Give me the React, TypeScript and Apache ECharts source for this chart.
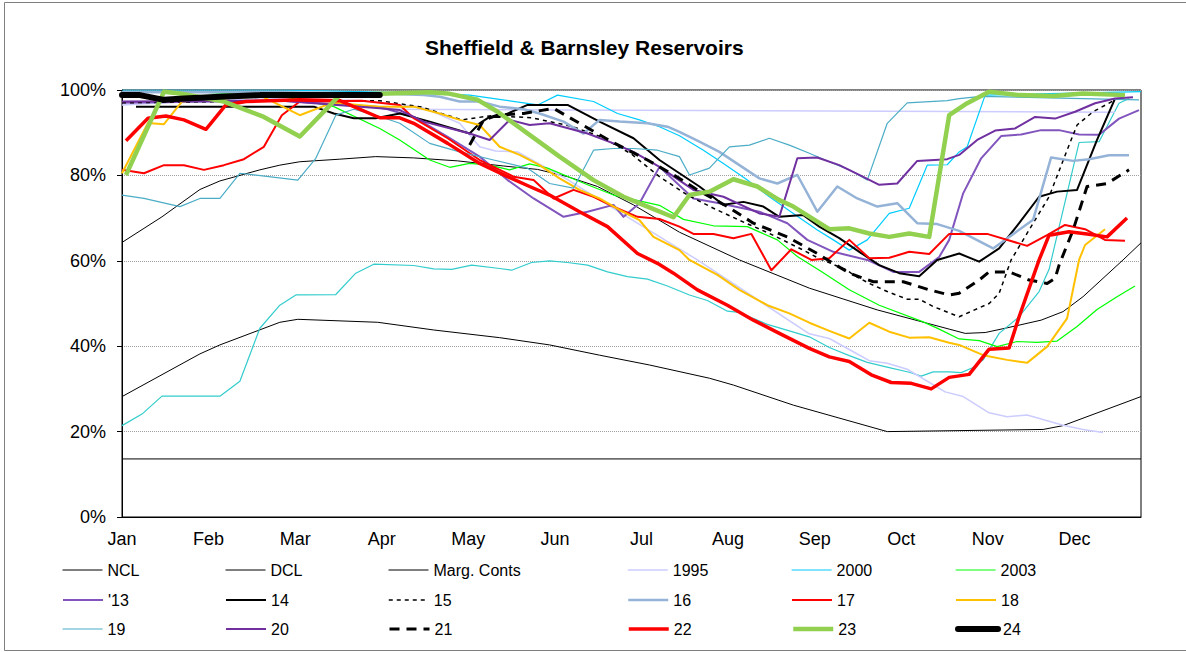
import React, { useEffect, useRef } from "react";
import * as echarts from "echarts";

// x values are week numbers (0 = 1 Jan), y values are % full
const MONTHS = ["Jan", "Feb", "Mar", "Apr", "May", "Jun", "Jul", "Aug", "Sep", "Oct", "Nov", "Dec"];

const NCL = [[0,64.3],[2.0,70.3],[3.9,76.7],[4.9,78.7],[6.9,81.3],[7.9,82.4],[8.9,83.2],[10.9,83.8],[12.7,84.4],[14.6,84.1],[16.8,83.4],[19.1,82.2],[20.8,81.4],[22.3,79.7],[23.8,77.4],[25.6,73.1],[27.9,66.7],[30.9,60.2],[34.4,53.6],[37.8,48.5],[41.4,44],[42.2,43],[43.2,43.2],[44.3,44.3],[46.0,46.1],[47.1,48.1],[48.1,51.6],[50.1,60.2],[51,64.2]];
const DCL = [[0,28.2],[3.9,38.2],[4.9,40.3],[7.9,45.6],[8.8,46.3],[12.8,45.6],[15.6,43.8],[18.9,42],[21.4,40.3],[23.9,37.9],[26.4,35.6],[29.4,32.5],[30.6,30.9],[33.6,26.2],[38.3,20],[46.1,20.5],[47.1,21.4],[51,28.2]];
const MARG = [[0,13.6],[51,13.6]];
const EXTRA_TURQ = [[0,21.4],[1,24.1],[2,28.3],[4.9,28.3],[5.9,31.8],[6.9,44.2],[7.9,49.6],[8.7,52],[10.7,52.1],[11.7,57.1],[12.6,59.2],[14.6,58.9],[15.6,58.1],[16.5,58],[17.5,59],[18.9,58.2],[19.5,57.8],[20.5,59.6],[21.4,60],[22.3,59.6],[23.3,59],[24.3,57.4],[25.3,56.3],[26.3,55.7],[27.3,54.1],[28.4,52],[29.3,50.7],[30.3,48.2],[30.9,47.9],[32.3,45.1],[33.4,43.6],[34.4,42.2],[35.4,39.7],[36.4,37.8],[37.3,36.2],[38.4,35],[39.4,33.9],[40.0,33],[40.6,34],[41.4,34],[42.0,33.8],[42.6,35],[43.1,36.8],[43.9,43],[44.9,46.9],[45.9,52.8],[46.4,58],[47.9,87.7],[48.9,87.9],[49.9,96.9],[50.4,98]];
const EXTRA_FLAT = [[13,95.5],[49.7,94.8]];
const Y1995 = [[0,96.5],[4,97.5],[8,98],[12,97.5],[15,96],[16.9,92.2],[17.9,86.7],[18.7,85.7],[19.8,85.5],[22.3,79],[25,71.1],[28.8,60.2],[32.1,50],[34.4,42.9],[35.4,41.8],[36.6,38.7],[37.4,36.6],[38.3,36],[39.3,34.6],[41.2,29.3],[42.1,28.2],[43.4,24.4],[44.3,23.5],[45.3,23.9],[47.1,21.5],[48.1,20.5],[49.1,19.8]];
const Y2000 = [[0,100],[8,100],[13,99.5],[17.4,98.8],[20.8,96.5],[21.8,98.8],[23.6,97.3],[24.8,94.5],[25.9,93],[26.9,91.4],[27.9,89.3],[29.1,85.9],[30.1,82.8],[31.3,78.9],[32.4,75],[33.6,71.1],[34.8,67.2],[35.6,64.9],[36.4,62.5],[37.3,64.9],[38.4,71.1],[39.4,72.3],[40.3,82.4],[41.3,82.5],[41.9,85.5],[42.3,86.7],[43.2,98.8],[51,99.6]];
const Y2003 = [[0,99.5],[4,99.5],[8,98.5],[10.6,96.1],[12.9,91],[13.9,88.3],[15.4,83.6],[16.4,81.9],[17.4,82.8],[18.4,82.4],[19.4,81.3],[20.4,82.7],[21.3,81.7],[23.3,77.8],[24.6,75.4],[26.9,73],[28.1,69.7],[29.6,68.2],[31.3,68],[32.8,64.9],[33.8,61],[35,57.5],[36.4,53.2],[37.9,49.6],[40.1,45.7],[40.9,44],[41.9,41.7],[42.9,41.3],[43.8,39.9],[44.8,41.1],[45.8,40.9],[46.8,41.2],[47.8,44.6],[48.8,48.6],[49.8,51.6],[50.7,54.1]];
const Y13 = [[0,97],[8,97.5],[12.9,96],[14.6,93.7],[16.3,89],[17.9,84.4],[19.3,78.9],[20.6,74.6],[22.1,70.3],[23.3,71.5],[24.6,73.1],[25.1,70.3],[25.9,73.5],[26.9,82],[28.6,74.6],[29.9,73.5],[31.9,71.5],[33.3,68.8],[34.3,64.9],[35.6,62.1],[37.3,60.2],[38.6,57.4],[39.9,57.4],[40.9,60.9],[41.4,64.9],[42.1,75.8],[43.0,84],[44.0,89.2],[45.0,89.6],[46.0,90.6],[46.9,90.6],[47.9,89.6],[48.9,89.5],[49.9,93.3],[50.9,95.3]];
const Y14 = [[0.7,96.1],[9.6,96.1],[10.6,94.5],[11.6,93.4],[12.7,93.4],[13.9,94.5],[15.4,92.6],[17.4,89.8],[17.9,92.2],[18.4,93.7],[18.9,93.7],[20.3,96.5],[22.3,96.5],[23.9,92.6],[25.6,88.7],[26.9,83.6],[27.9,80.5],[28.9,77.4],[30.1,73.1],[31.1,73.8],[32.1,72.7],[32.9,70.3],[34.1,70.7],[34.9,68],[35.9,65.3],[36.9,62.1],[37.9,59],[38.9,57.1],[39.9,56.4],[40.8,60.2],[41.9,61.7],[42.9,59.8],[43.9,62.9],[44.9,68.8],[45.9,75],[46.8,76.2],[47.8,76.6],[48.8,88.3],[49.7,98]];
const Y15 = [[0,97],[8,97.5],[12.9,97.5],[15,96],[17,93],[18.5,94],[20.5,93.5],[22.5,91.5],[24,89],[25.5,85],[26.9,79.7],[28.3,75.4],[29.6,72.3],[30.9,69.5],[32.4,66.4],[34.1,62.5],[34.9,60.5],[36.3,57.8],[36.6,56.7],[37.4,54.7],[38.3,52.8],[39.3,51],[39.9,51],[40.6,49.3],[41.4,47.8],[41.9,46.9],[43.4,50],[43.9,52.4],[44.5,60.2],[45.5,68],[46.4,75],[47.3,85.9],[47.8,91.8],[48.6,94.9],[49.7,97.7]];
const Y16 = [[0,99.5],[8,99.5],[13,99.2],[15.1,98.8],[15.9,98.4],[16.9,97.3],[17.9,97.3],[18.9,96.1],[20.1,95.5],[20.9,94.5],[22.1,92.6],[23.1,89.8],[23.9,93],[24.9,92.6],[26.3,92.2],[27.3,91.4],[27.9,90.2],[28.9,87.9],[29.9,85.5],[30.9,82.4],[31.9,79.3],[32.8,78.1],[33.8,80.1],[34.8,71.5],[35.8,77.4],[36.8,74.6],[37.8,72.7],[38.8,73.5],[39.8,68.8],[40.8,68.6],[41.9,67],[43.6,62.9],[45.6,69.6],[46.5,84.2],[47.6,83.4],[48.4,83.8],[49.4,84.7],[50.4,84.7]];
const Y17 = [[0,81.3],[1.1,80.5],[2.1,82.4],[3.1,82.4],[4.1,81.3],[5.1,82.4],[6.1,83.8],[7.1,86.7],[8,94.1],[8.9,97.3],[12,97.5],[13.9,96.5],[14.6,93.4],[16.3,88.7],[17.9,83.6],[19.6,79.7],[20.6,78.9],[21.6,74.6],[22.6,76.6],[23.6,75],[24.6,72.7],[25.8,70.3],[26.9,69.8],[27.9,68],[28.6,66.3],[29.6,66.3],[30.6,65.3],[31.5,66.3],[32.5,57.8],[33.5,62.7],[34.5,60.2],[35.4,60.6],[36.4,64.9],[37.4,60.6],[38.4,60.7],[39.4,62.1],[40.4,61.6],[41.4,66.3],[43.3,66.3],[45.3,63.5],[46.3,66],[47.2,68.4],[48.2,67.4],[49.2,64.9],[50.2,64.7]];
const Y18 = [[0,80.5],[1.3,92.3],[2.1,92],[3,97.3],[5,98],[7,98.5],[8.9,94.1],[10.5,97],[12.9,96.1],[14.6,96.1],[15.9,94.5],[16.9,93],[17.9,91.8],[18.9,86.7],[19.9,84.8],[20.9,82.4],[21.9,79.3],[22.9,76.6],[23.9,74.6],[24.9,71.9],[25.9,69.5],[26.6,65.6],[27.9,62.5],[28.4,60.2],[29.8,56.7],[30.9,53.2],[32.3,49.6],[33.4,47.7],[34.4,45.5],[35.4,43.6],[36.4,41.8],[37.4,45.5],[38.4,43.4],[39.4,42],[40.4,42.1],[41.4,40.8],[41.9,40.3],[43.1,37.9],[44.3,36.8],[45.3,36.1],[46.3,39.9],[47.3,46.5],[47.9,60.2],[48.2,63.7],[49.2,67.4]];
const Y19 = [[0,75.4],[1.1,74.6],[2.9,72.7],[3.9,74.6],[4.9,74.6],[5.9,80.5],[8.8,78.9],[9.7,84],[10.7,94.1],[11.6,95.5],[12.9,93.8],[13.9,92.2],[15.4,87.5],[16.9,85.5],[18.6,83.6],[20.3,81.7],[21.4,78.1],[22.6,77],[23.6,85.9],[24.6,86.3],[25.6,86.3],[26.8,85.9],[27.9,84.4],[28.4,80.1],[29.4,81.7],[30.4,86.7],[31.4,87.1],[32.4,88.7],[33.4,87.1],[34.4,85.2],[35.4,83.2],[36.4,81.3],[37.3,78.9],[38.3,92.2],[39.3,97],[41.3,97.5],[41.9,98],[43,98.5],[48.1,98],[50.9,97.7]];
const Y20 = [[0,97.3],[8,97.5],[12.9,95.7],[13.9,95.3],[15.1,92.6],[17.4,89.8],[18.4,88.3],[19.4,93],[20.4,91.8],[21.4,92.2],[23.3,89.8],[24.6,87.5],[25.6,85.5],[26.9,82],[28.6,76.6],[30.1,75],[31.9,71.1],[32.9,70.3],[33.8,84],[34.8,84.2],[35.9,82.4],[36.9,80.1],[37.9,77.8],[38.8,78.1],[39.8,83.4],[41.3,83.8],[41.9,84.8],[42.8,88.3],[43.7,90.5],[44.7,91],[45.7,93.7],[46.7,93.3],[47.7,94.9],[48.7,96.9],[49.7,98],[50.6,98.3]];
const Y21 = [[17.4,87.1],[18.1,93],[18.8,94.1],[20.1,94.5],[21.6,95.7],[22.9,92.2],[24.5,87.9],[26.3,83.6],[27.9,79.3],[28.8,76.6],[30.3,72.7],[31.6,68.8],[33.3,65.6],[34.8,61.7],[35.6,59.4],[36.4,57.1],[37.6,55.1],[39.1,55.1],[40.4,53.2],[41.4,52],[41.9,52.4],[42.9,55.5],[43.4,57.4],[44.4,57.4],[45.4,55.5],[46.3,54.7],[46.7,55.9],[46.9,59],[47.6,67.2],[48.3,77.4],[49.3,78.1],[50.4,81.3]];
const Y22 = [[0.2,88.1],[1.3,93.4],[2.2,93.9],[3.1,93],[4.2,90.8],[5.2,96.5],[6.2,97.3],[8.9,97.7],[10.9,97.5],[12.9,93.5],[13.9,93.5],[14.6,92.2],[16.3,87.5],[17.9,82.8],[19.3,79.7],[20.4,77.4],[21.4,75.4],[22.9,71.5],[24.3,68],[25.8,61.7],[26.8,59.4],[27.6,57.1],[28.8,53.2],[30.3,49.6],[31.6,46.1],[32.9,43],[34.4,39.5],[35.4,37.5],[36.4,36.4],[37.5,33.3],[38.5,31.5],[39.5,31.3],[40.5,30],[41.4,32.7],[42.4,33.4],[43.4,39.3],[44.4,39.6],[44.9,46.9],[45.9,60.2],[46.4,66],[47.4,66.8],[48.3,66.3],[49.3,65.6],[50.3,70]];
const Y23 = [[0.2,80.1],[2.1,99.6],[2.9,99.2],[5.1,97.3],[7.1,93.7],[8.9,89.1],[10.9,98.8],[12.9,99.1],[15.4,99.5],[16.3,99.2],[17.8,97.7],[18.8,94.9],[20.4,89.5],[21.9,84.4],[23.6,78.9],[25.1,75],[26.3,72.7],[27.6,70.2],[28.4,75.4],[29.4,76.2],[30.6,79.1],[31.8,77.4],[32.9,74.2],[33.6,72.7],[35.4,67.4],[36.4,67.6],[37.4,66.4],[38.4,65.6],[39.4,66.4],[40.4,65.6],[41.4,94.1],[42.3,96.9],[43.4,99.6],[44.9,98.8],[46.6,98.6],[48.1,99.2],[50.2,98.8]];
const Y24 = [[0,98.8],[0.9,98.8],[2.1,97.7],[3.1,98],[4.9,98.4],[6.9,98.8],[8.9,98.8],[12.9,98.8]];

// series drawing order and styles
const SERIES_STYLE = [
  { name: "NCL", data: NCL, color: "#000000", width: 1 },
  { name: "DCL", data: DCL, color: "#000000", width: 1 },
  { name: "Marg. Conts", data: MARG, color: "#000000", width: 1 },
  { name: "_t", data: EXTRA_TURQ, color: "#33cccc", width: 1.2 },
  { name: "_f", data: EXTRA_FLAT, color: "#ccccff", width: 1.5 },
  { name: "1995", data: Y1995, color: "#ccccff", width: 1.5 },
  { name: "2000", data: Y2000, color: "#00ccff", width: 1.2 },
  { name: "2003", data: Y2003, color: "#00ff00", width: 1.2 },
  { name: "'13", data: Y13, color: "#8155bd", width: 2 },
  { name: "14", data: Y14, color: "#000000", width: 2 },
  { name: "15", data: Y15, color: "#000000", width: 1.5, dash: [4, 4] },
  { name: "16", data: Y16, color: "#95b3d7", width: 2.5 },
  { name: "17", data: Y17, color: "#ff0000", width: 2 },
  { name: "18", data: Y18, color: "#ffc000", width: 2 },
  { name: "19", data: Y19, color: "#4bacc6", width: 1.2 },
  { name: "20", data: Y20, color: "#7030a0", width: 2 },
  { name: "21", data: Y21, color: "#000000", width: 3, dash: [10, 7] },
  { name: "22", data: Y22, color: "#ff0000", width: 3.5 },
  { name: "23", data: Y23, color: "#92d050", width: 4.5 },
  { name: "24", data: Y24, color: "#000000", width: 6, cap: "round" },
];

const LEGEND_ORDER = ["NCL", "DCL", "Marg. Conts", "1995", "2000", "2003", "'13", "14", "15", "16", "17", "18", "19", "20", "21", "22", "23", "24"];
const LEGEND_COLS = [62, 225, 388, 627, 791, 955];
const LEGEND_ROWS = [571, 601, 630];

const FONT = "'Liberation Sans', Arial, sans-serif";

export default function App() {
  const ref = useRef<HTMLDivElement>(null);
  useEffect(() => {
    if (!ref.current) return;
    const chart = echarts.init(ref.current, null, { renderer: "svg" });
    const legends = LEGEND_ORDER.map((name, i) => {
      const st: any = SERIES_STYLE.find((s) => s.name === name) || {};
      return {
        data: [name],
        left: LEGEND_COLS[i % 6],
        top: LEGEND_ROWS[Math.floor(i / 6)] - 9,
        itemWidth: 40,
        itemHeight: 18,
        selectedMode: false,
        padding: 0,
        itemStyle: { opacity: 0 },
        lineStyle: {
          width: st.width,
          color: st.color,
          type: st.dash ? st.dash : "solid",
          cap: st.cap || "butt",
        },
        textStyle: { fontFamily: FONT, fontSize: 16, color: "#000" },
      };
    });
    chart.setOption({
      animation: false,
      backgroundColor: "#ffffff",
      title: {
        text: "Sheffield & Barnsley Reservoirs",
        left: 420,
        top: 32,
        textStyle: { fontFamily: FONT, fontSize: 21, fontWeight: "bold", color: "#000" },
      },
      graphic: [
        {
          type: "rect",
          shape: { x: 4.5, y: 2.5, width: 1200, height: 648 },
          style: { fill: "none", stroke: "#808080", lineWidth: 1 },
          silent: true,
        },
      ],
      legend: legends,
      grid: {
        left: 122,
        top: 90,
        right: 45,
        bottom: 135,
        show: true,
        borderColor: "#000",
        borderWidth: 1,
        backgroundColor: "transparent",
      },
      xAxis: {
        type: "value",
        min: 0,
        max: 51,
        interval: 52 / 12,
        axisLine: { show: true, lineStyle: { color: "#000", width: 1 } },
        axisTick: { show: false },
        splitLine: { show: false },
        axisLabel: {
          fontFamily: FONT,
          fontSize: 18,
          color: "#000",
          margin: 13,
          showMaxLabel: false,
          formatter: (v: number) => {
            const i = Math.round((v * 12) / 52);
            if (i < 0 || i > 11 || Math.abs(v - (i * 52) / 12) > 0.05) return "";
            return MONTHS[i];
          },
        },
      },
      yAxis: {
        type: "value",
        min: 0,
        max: 100,
        interval: 20,
        axisLine: { show: true, lineStyle: { color: "#000", width: 1 } },
        axisTick: { show: true, length: 5, lineStyle: { color: "#000" } },
        splitLine: { show: true, lineStyle: { color: "#a0a0a0", type: "dotted", width: 1 } },
        axisLabel: { fontFamily: FONT, fontSize: 18, color: "#000", margin: 16, formatter: "{value}%" },
      },
      series: SERIES_STYLE.map((s, i) => ({
        name: s.name,
        type: "line",
        data: s.data,
        symbol: "none",
        z: 2 + i * 0.01,
        silent: true,
        itemStyle: { color: s.color },
        lineStyle: {
          color: s.color,
          width: s.width,
          type: s.dash ? s.dash : "solid",
          cap: s.cap || "butt",
          join: "round",
        },
      })),
    });
    return () => chart.dispose();
  }, []);
  return (
    <div
      ref={ref}
      style={{ position: "fixed", left: 0, top: 0, width: 1186, height: 652, background: "#fff" }}
    />
  );
}
